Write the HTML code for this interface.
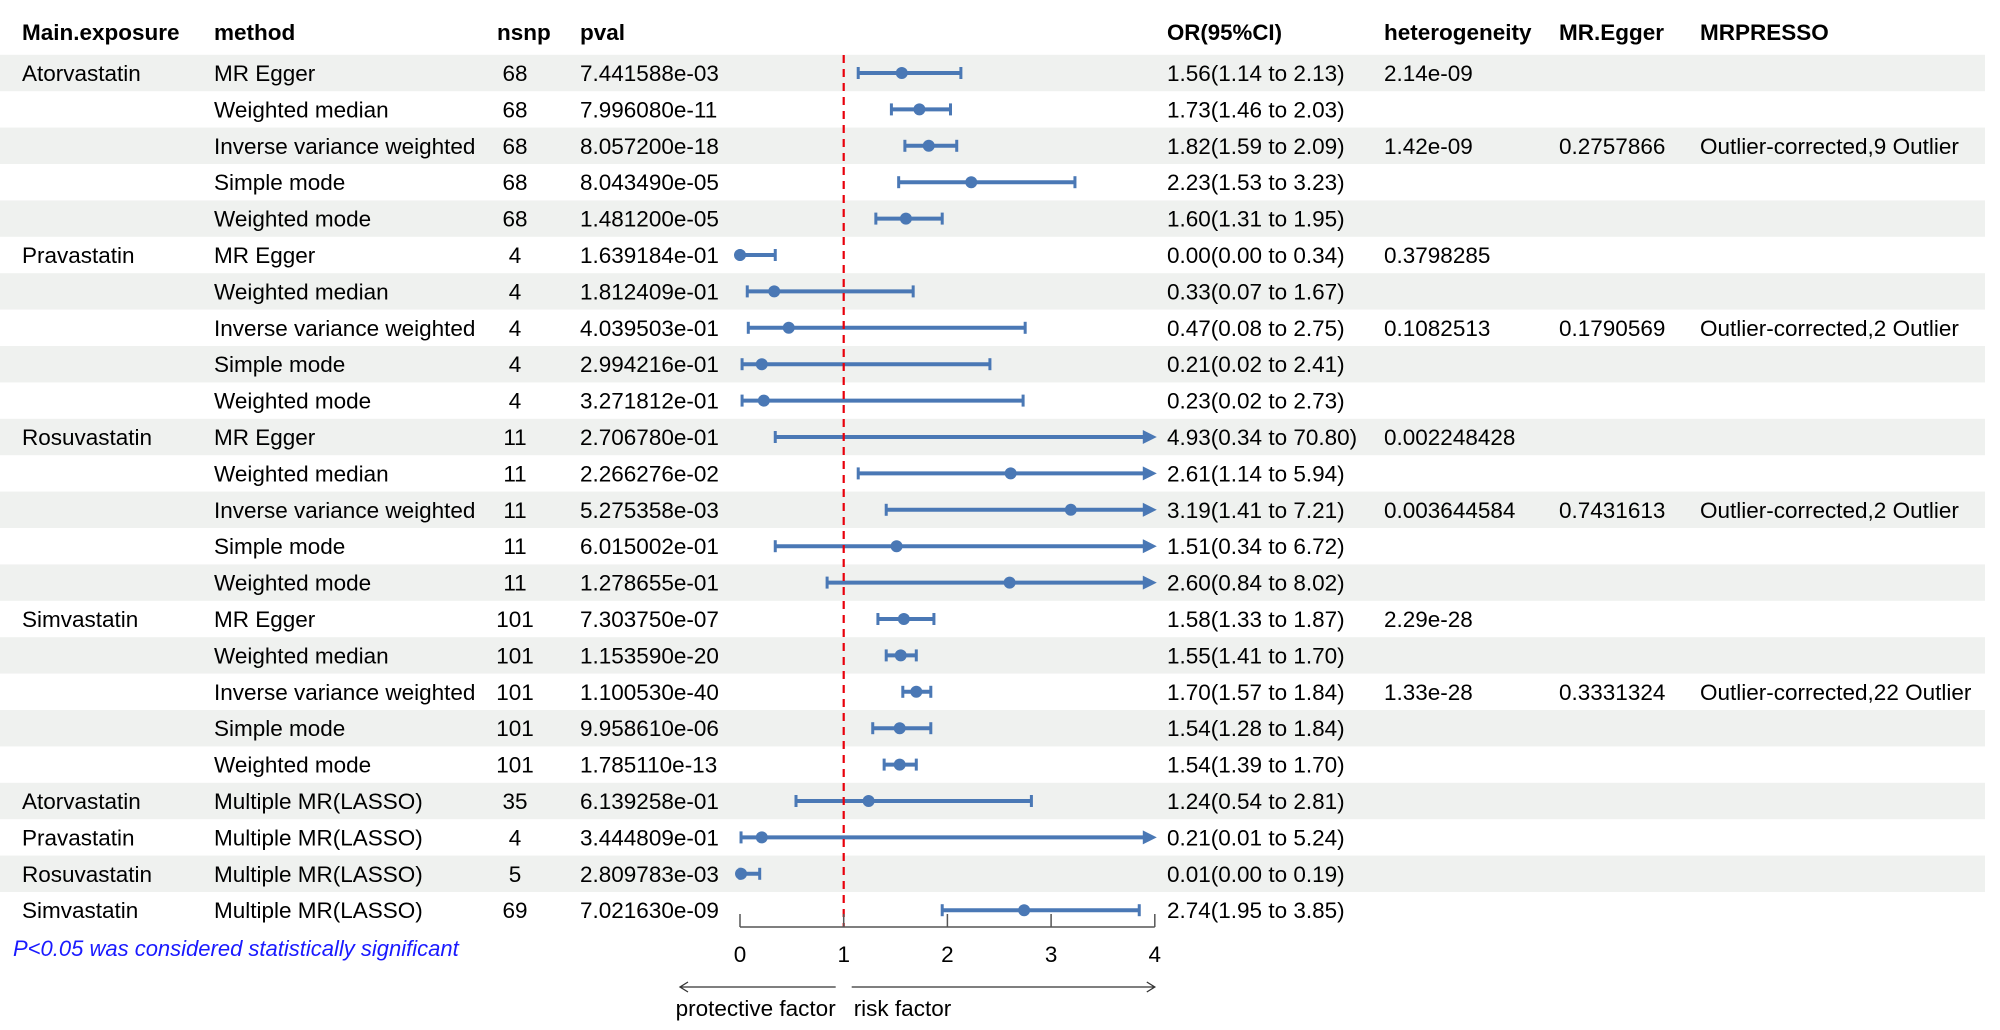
<!DOCTYPE html>
<html><head><meta charset="utf-8">
<style>
html,body{margin:0;padding:0;background:#fff;}
svg{display:block;font-family:"Liberation Sans",Arial,sans-serif;}
</style></head>
<body>
<svg id="chart" width="2000" height="1030" viewBox="0 0 2000 1030" xmlns="http://www.w3.org/2000/svg">
<g id="stripes"></g>
<g id="headers" font-weight="bold" font-size="22.5" fill="#000">
<text x="22" y="40">Main.exposure</text>
<text x="214" y="40">method</text>
<text x="497" y="40">nsnp</text>
<text x="580" y="40">pval</text>
<text x="1167" y="40" textLength="115" lengthAdjust="spacingAndGlyphs">OR(95%CI)</text>
<text x="1384" y="40">heterogeneity</text>
<text x="1559" y="40">MR.Egger</text>
<text x="1700" y="40">MRPRESSO</text>
</g>
<g id="table" font-size="22.5" fill="#000"></g>
<g id="marks"></g>
<g id="axis"></g>
<text x="13" y="956" font-size="22" font-style="italic" fill="#1a1aff">P&lt;0.05 was considered statistically significant</text>
</svg>
<script>
const exposures = ["Atorvastatin","","","","","Pravastatin","","","","","Rosuvastatin","","","","","Simvastatin","","","","","Atorvastatin","Pravastatin","Rosuvastatin","Simvastatin"];
const methods = ["MR Egger","Weighted median","Inverse variance weighted","Simple mode","Weighted mode","MR Egger","Weighted median","Inverse variance weighted","Simple mode","Weighted mode","MR Egger","Weighted median","Inverse variance weighted","Simple mode","Weighted mode","MR Egger","Weighted median","Inverse variance weighted","Simple mode","Weighted mode","Multiple MR(LASSO)","Multiple MR(LASSO)","Multiple MR(LASSO)","Multiple MR(LASSO)"];
const nsnp = [68,68,68,68,68,4,4,4,4,4,11,11,11,11,11,101,101,101,101,101,35,4,5,69];
const pvals = ["7.441588e-03","7.996080e-11","8.057200e-18","8.043490e-05","1.481200e-05","1.639184e-01","1.812409e-01","4.039503e-01","2.994216e-01","3.271812e-01","2.706780e-01","2.266276e-02","5.275358e-03","6.015002e-01","1.278655e-01","7.303750e-07","1.153590e-20","1.100530e-40","9.958610e-06","1.785110e-13","6.139258e-01","3.444809e-01","2.809783e-03","7.021630e-09"];
const orVals = [1.56,1.73,1.82,2.23,1.60,0.00,0.33,0.47,0.21,0.23,4.93,2.61,3.19,1.51,2.60,1.58,1.55,1.70,1.54,1.54,1.24,0.21,0.01,2.74];
const lowVals = [1.14,1.46,1.59,1.53,1.31,0.00,0.07,0.08,0.02,0.02,0.34,1.14,1.41,0.34,0.84,1.33,1.41,1.57,1.28,1.39,0.54,0.01,0.00,1.95];
const highVals = [2.13,2.03,2.09,3.23,1.95,0.34,1.67,2.75,2.41,2.73,70.80,5.94,7.21,6.72,8.02,1.87,1.70,1.84,1.84,1.70,2.81,5.24,0.19,3.85];
const heterogeneity = ["2.14e-09","","1.42e-09","","","0.3798285","","0.1082513","","","0.002248428","","0.003644584","","","2.29e-28","","1.33e-28","","","","","",""];
const mrEgger = ["","","0.2757866","","","","","0.1790569","","","","","0.7431613","","","","","0.3331324","","","","","",""];
const mrpresso = ["","","Outlier-corrected,9 Outlier","","","","","Outlier-corrected,2 Outlier","","","","","Outlier-corrected,2 Outlier","","","","","Outlier-corrected,22 Outlier","","","","","",""];
const ticks = [0,1,2,3,4];

const NS="http://www.w3.org/2000/svg";
const X0=740, UNIT=103.7, XMIN=0, XMAX=4;
const xs = v => X0 + (v - XMIN) * UNIT;
const ROW0=73, RH=36.4;
const ys = i => ROW0 + i*RH;
const COL="#4a78b5";
function mk(tag, attrs, parent){const e=document.createElementNS(NS,tag);for(const k in attrs)e.setAttribute(k,attrs[k]);parent.appendChild(e);return e;}
const stripes=document.getElementById('stripes'), table=document.getElementById('table'), marks=document.getElementById('marks'), axis=document.getElementById('axis');

for(let i=0;i<methods.length;i++){
  const y=ys(i);
  if(i%2===0){
    const r=mk('rect',{x:0,y:y-RH/2,width:1985,height:RH,fill:'#eff1ef'},stripes);
    
    
  }
  const cells=[[22,exposures[i],'start','exposure-cell'],[214,methods[i],'start','method-cell'],[515,String(nsnp[i]),'middle','nsnp-cell'],[580,pvals[i],'start','pval-cell'],
    [1167,orVals[i].toFixed(2)+'('+lowVals[i].toFixed(2)+' to '+highVals[i].toFixed(2)+')','start','or-cell'],[1384,heterogeneity[i],'start','heterogeneity-cell'],[1559,mrEgger[i],'start','mr-egger-cell'],[1700,mrpresso[i],'start','mrpresso-cell']];
  for(const c of cells){
    if(!c[1])continue;
    const t=mk('text',{x:c[0],y:y+8,'text-anchor':c[2]},table);
    t.textContent=c[1];
    
    
  }
  const lo=Math.max(lowVals[i],XMIN), hi=Math.min(highVals[i],XMAX);
  const clipped=highVals[i]>XMAX;
  const x1=xs(lo), x2=xs(hi);
  const ln=mk('line',{x1:x1,y1:y,x2:clipped?x2-8:x2,y2:y,stroke:COL,'stroke-width':4},marks);
  
  
  const c1=mk('line',{x1:x1,y1:y-6,x2:x1,y2:y+6,stroke:COL,'stroke-width':3},marks);
  
  
  if(clipped){
    const a=mk('polygon',{points:`${x2+2},${y} ${x2-12},${y-7} ${x2-12},${y+7}`,fill:COL},marks);
    
    
  } else {
    const c2=mk('line',{x1:x2,y1:y-6,x2:x2,y2:y+6,stroke:COL,'stroke-width':3},marks);
    
    
  }
  if(orVals[i]<=XMAX){
    const d=mk('circle',{cx:xs(Math.max(orVals[i],XMIN)),cy:y,r:6,fill:COL},marks);
    
    
  }
}
const ref=mk('line',{x1:xs(1),y1:55,x2:xs(1),y2:927,stroke:'#e8000b','stroke-width':2.2,'stroke-dasharray':'8,6'},marks);


const AY=927;
const al=mk('line',{x1:xs(XMIN),y1:AY,x2:xs(XMAX),y2:AY,stroke:'#555','stroke-width':1.5},axis);


for(const t of ticks){
  const tk=mk('line',{x1:xs(t),y1:AY-13,x2:xs(t),y2:AY,stroke:'#555','stroke-width':1.5},axis);
  
  
  const tl=mk('text',{x:xs(t),y:AY+35,'text-anchor':'middle','font-size':22.5,fill:'#000'},axis);
  tl.textContent=String(t);
  
  
}
const AR=987;
const pa=mk('path',{d:`M${xs(0)-60},${AR} L${xs(1)-8},${AR} M${xs(0)-52},${AR-5} L${xs(0)-60},${AR} L${xs(0)-52},${AR+5}`,stroke:'#333','stroke-width':1.3,fill:'none'},axis);


const ra=mk('path',{d:`M${xs(1)+8},${AR} L${xs(4)},${AR} M${xs(4)-8},${AR-5} L${xs(4)},${AR} L${xs(4)-8},${AR+5}`,stroke:'#333','stroke-width':1.3,fill:'none'},axis);


const pt=mk('text',{x:xs(1)-8,y:1016,'text-anchor':'end','font-size':22.5,fill:'#000'},axis);
pt.textContent='protective factor';


const rt=mk('text',{x:xs(1)+10,y:1016,'font-size':22.5,fill:'#000'},axis);
rt.textContent='risk factor';


</script>
</body></html>
